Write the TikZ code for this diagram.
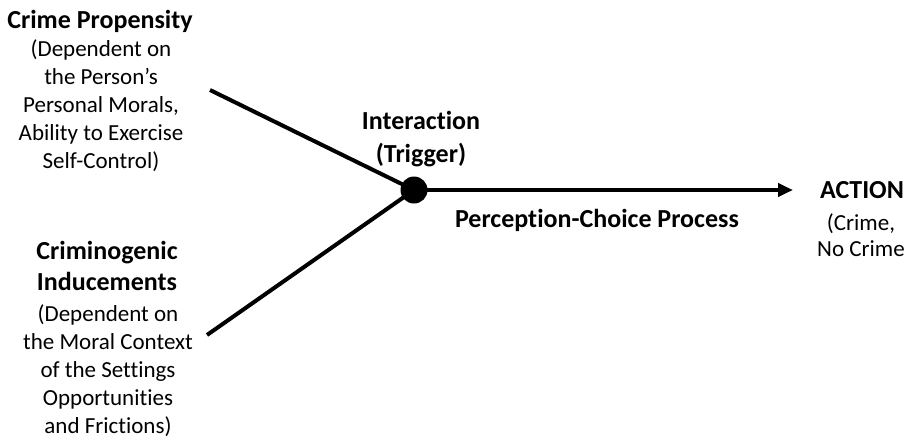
\documentclass[tikz,border=0pt]{standalone}
\usepackage{fontspec}
\setmainfont[RawFeature=-liga]{Carlito}
\usetikzlibrary{arrows.meta}
\begin{document}
\begin{tikzpicture}[x=1pt,y=-1pt,
  txt/.style={align=center,font=\fontsize{23}{28}\selectfont,inner sep=0pt},
  bld/.style={align=center,inner sep=0pt,font=\fontsize{26}{31.5}\selectfont\bfseries},
  conn/.style={line width=4pt}]
\useasboundingbox (0,0) rectangle (912,437);
\node[bld,anchor=north] (cp) at (100,10) {Crime Propensity};
\node[txt,anchor=north] (cpd) at (101,39) {(Dependent on\\the Person’s\\Personal Morals,\\Ability to Exercise\\Self-Control)};
\node[bld,anchor=north] (ci) at (107,241) {Criminogenic\\Inducements};
\node[txt,anchor=north] (cid) at (108,304) {(Dependent on\\the Moral Context\\of the Settings\\Opportunities\\and Frictions)};
\node[bld,anchor=north,font=\fontsize{26}{33}\selectfont\bfseries] (int) at (421,111) {Interaction\\(Trigger)};
\node[bld] (pcp) at (597,220) {Perception-Choice Process};
\node[bld,anchor=north] (act) at (862,181) {ACTION};
\node[txt,anchor=north,font=\fontsize{23}{26}\selectfont] (actd) at (861,213) {(Crime,\\No Crime};
\coordinate (t1) at (210,90);
\coordinate (b1) at (207,335);
\coordinate (ae) at (793,190);
\node[circle,fill=black,minimum size=27pt,inner sep=0pt] (dot) at (414,190) {};
\draw[conn] (t1) -- (dot.center);
\draw[conn] (b1) -- (dot.center);
\draw[conn,-{Triangle[length=15pt,width=13pt]}] (dot.center) -- (ae);
\end{tikzpicture}
\end{document}
